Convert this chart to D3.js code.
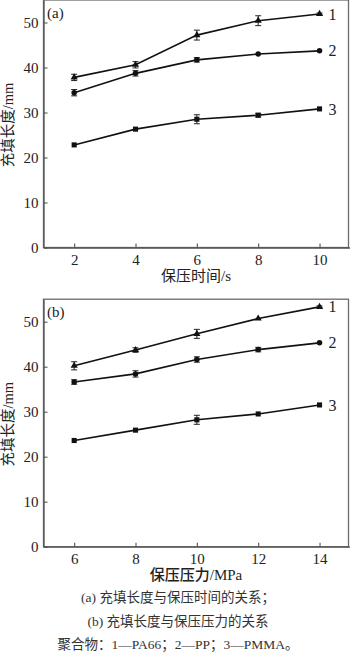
<!DOCTYPE html>
<html><head><meta charset="utf-8">
<script src="https://cdnjs.cloudflare.com/ajax/libs/d3/7.8.5/d3.min.js"></script>
<style>body{margin:0;background:#fff}svg{display:block}</style>
</head><body>
<svg id="c" width="350" height="658"></svg>
<script>
// ---- data ----
const xA = [2, 4, 6, 8, 10];
const xB = [6, 8, 10, 12, 14];
const xTicksA = [2, 4, 6, 8, 10];
const xTicksB = [6, 8, 10, 12, 14];
const yTicks = [0, 10, 20, 30, 40, 50];
const seriesNames = ["1", "2", "3"];
const a1 = [37.8, 40.6, 47.2, 50.4, 51.9], a1err = [0.7, 0.7, 1.1, 1.1, 0.2];
const a2 = [34.4, 38.7, 41.7, 43.0, 43.7], a2err = [0.7, 0.6, 0.5, 0, 0];
const a3 = [22.8, 26.3, 28.5, 29.4, 30.8], a3err = [0, 0, 1.0, 0.4, 0];
const b1 = [40.2, 43.7, 47.3, 50.7, 53.3], b1err = [0.9, 0.5, 1.0, 0, 0.2];
const b2 = [36.6, 38.4, 41.6, 43.8, 45.3], b2err = [0.5, 0.7, 0.6, 0.5, 0];
const b3 = [23.6, 25.9, 28.2, 29.5, 31.5], b3err = [0, 0, 1.0, 0, 0];
const yTitle = "充填长度/mm";
const xTitleA = "保压时间/s";
const xTitleB = "保压压力/MPa";
const captions = ["(a) 充填长度与保压时间的关系；", "(b) 充填长度与保压压力的关系", "聚合物：1—PA66；2—PP；3—PMMA。"];

const svg = d3.select("#c");
const serif = "'Liberation Serif','Times New Roman',serif";
const cjk = "'Liberation Serif','Noto Sans CJK SC',serif";

function panel(cfg) {
  const g = svg.append("g");
  const x = d3.scaleLinear().domain(cfg.xdom).range([43.5, 350.2]);
  const y = d3.scaleLinear().domain([0, 55]).range([cfg.bottom, cfg.bottom - 247.5]);
  const L = 43.5, R = 348.5, T = cfg.bottom - 247.5, B = cfg.bottom;
  // frame
  g.append("rect").attr("x", L).attr("y", T).attr("width", R - L).attr("height", B - T)
    .attr("fill", "none").attr("stroke", "#6a6a6a").attr("stroke-width", 1.3);
  // axes
  const xa = g.append("g").attr("transform", `translate(0,${B})`)
    .call(d3.axisBottom(x).tickValues(cfg.xticks).tickSizeInner(-4).tickSizeOuter(0).tickPadding(7));
  const ya = g.append("g").attr("transform", `translate(${L},0)`)
    .call(d3.axisLeft(y).tickValues(yTicks).tickSizeInner(-4).tickSizeOuter(0).tickPadding(5));
  [xa, ya].forEach(a => {
    a.select(".domain").attr("stroke", "#555").attr("stroke-width", 1.3);
    a.selectAll(".tick line").attr("stroke", "#555").attr("stroke-width", 1.1);
    a.selectAll("text").attr("font-family", serif).attr("font-size", 15).attr("fill", "#222");
  });
  ya.selectAll("text").attr("dy", "0.3em");
  // panel label
  g.append("text").attr("x", 47).attr("y", T + 18).text(cfg.label)
    .attr("font-family", serif).attr("font-size", 15).attr("fill", "#222");
  // y title
  g.append("text").attr("transform", `translate(13,${T + 125}) rotate(-90)`)
    .attr("text-anchor", "middle").attr("font-family", cjk).attr("font-size", 14.5).attr("fill", "#222")
    .text(yTitle);
  // x title
  g.append("text").attr("x", 196).attr("y", B + 33).attr("text-anchor", "middle")
    .attr("font-family", cjk).attr("font-size", 15).attr("font-weight", cfg.bold ? 500 : "normal")
    .attr("fill", "#222").text(cfg.xtitle);
  // series
  const line = d3.line().x(d => x(d[0])).y(d => y(d[1]));
  cfg.series.forEach((s, si) => {
    const pts = cfg.xs.map((xv, i) => [xv, s.v[i], s.e[i]]);
    g.append("path").datum(pts).attr("d", line).attr("fill", "none")
      .attr("stroke", "#111").attr("stroke-width", 1.6);
    // error bars
    pts.filter(p => p[2] > 0).forEach(p => {
      const cx = x(p[0]), y1 = y(p[1] - p[2]), y2 = y(p[1] + p[2]);
      g.append("line").attr("x1", cx).attr("x2", cx).attr("y1", y1).attr("y2", y2).attr("stroke", "#222").attr("stroke-width", 1);
      [y1, y2].forEach(yy => g.append("line").attr("x1", cx - 3).attr("x2", cx + 3).attr("y1", yy).attr("y2", yy).attr("stroke", "#222").attr("stroke-width", 1));
    });
    // markers
    const sym = [d3.symbolTriangle, d3.symbolCircle, d3.symbolSquare][si];
    const size = [22, 24, 26][si];
    g.selectAll(null).data(pts).enter().append("path")
      .attr("d", d3.symbol().type(sym).size(size))
      .attr("transform", d => `translate(${x(d[0])},${y(d[1])})`)
      .attr("fill", "#111");
    // end label
    const last = pts[pts.length - 1];
    g.append("text").attr("x", x(last[0]) + 9).attr("y", y(last[1])).attr("dy", "0.35em")
      .attr("font-family", serif).attr("font-size", 16).attr("fill", "#222").text(seriesNames[si]);
  });
}

panel({bottom: 247.5, xdom: [1, 11], xticks: xTicksA, xs: xA, label: "(a)", xtitle: xTitleA,
  series: [{v: a1, e: a1err}, {v: a2, e: a2err}, {v: a3, e: a3err}]});
panel({bottom: 546.7, xdom: [5, 15], xticks: xTicksB, xs: xB, label: "(b)", xtitle: xTitleB, bold: true,
  series: [{v: b1, e: b1err}, {v: b2, e: b2err}, {v: b3, e: b3err}]});

captions.forEach((t, i) => {
  svg.append("text").attr("x", 178).attr("y", 602 + i * 23.5).attr("text-anchor", "middle")
    .attr("font-family", cjk).attr("font-size", 13.5).attr("fill", "#333").text(t);
});
</script>
</body></html>
